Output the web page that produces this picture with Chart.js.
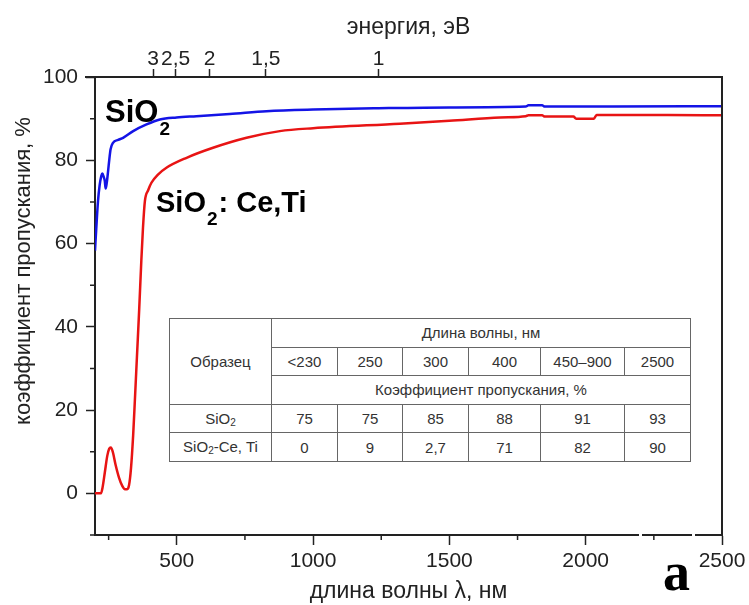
<!DOCTYPE html>
<html lang="ru">
<head>
  <meta charset="UTF-8">
  <title>Пропускание SiO2 и SiO2:Ce,Ti</title>
  <style>
    body { margin: 0; background: #fff; }
    .wrap { position: relative; width: 749px; height: 605px; }
    #tbl { position: absolute; left: 169px; top: 318px; width: 521px; border-collapse: collapse; table-layout: fixed;
           font-family: Arial, "Liberation Sans", sans-serif; font-size: 15px; color: #333; background: #fff; }
    #tbl td { border: 1px solid #666; text-align: center; padding: 0; height: 27.6px; white-space: nowrap; }
    #tbl sub { font-size: 10px; vertical-align: -2px; }
  </style>
</head>
<body>
  <div class="wrap">
    <canvas id="chart" width="749" height="605"></canvas>
    <table id="tbl"></table>
  </div>

  <script src="https://cdn.jsdelivr.net/npm/chart.js"></script>
  <script>
    // SiO2 (blue)
    const blueNm = [200, 205, 211, 217, 223, 227, 232, 236, 239, 243, 248, 253, 257, 266, 285, 303, 340, 389, 438, 499, 572, 694, 829, 1000, 1240, 1500, 1780, 1790, 1840, 1850, 2100, 2500];
    const blueT  = [58.3, 64, 70.2, 74, 76.2, 76.8, 76, 75, 73.2, 74.5, 77.4, 80.5, 82.6, 84.2, 84.9, 85.4, 87, 88.6, 89.8, 90.3, 90.6, 91.1, 91.8, 92.2, 92.5, 92.7, 92.9, 93.2, 93.2, 92.9, 92.9, 93.0];

    // SiO2:Ce,Ti (red)
    const redNm = [200, 222, 228, 236, 245, 252, 258, 265, 275, 288, 300, 310, 318, 325, 332, 340, 346, 354, 362, 370, 376, 383, 395, 407, 430, 462, 536, 633, 756, 878, 1000, 1318, 1500, 1686, 1780, 1790, 1840, 1850, 1955, 1965, 2030, 2040, 2300, 2500];
    const redT  = [0, 0, 1.5, 5, 9, 10.7, 11, 10, 7, 3.8, 1.8, 1.0, 1.0, 2, 6, 14, 22, 33, 44, 56, 63.8, 70.2, 72.8, 74.6, 76.5, 78.2, 80.6, 83, 85.4, 87, 87.7, 88.8, 89.5, 90.3, 90.6, 90.8, 90.8, 90.5, 90.5, 90.0, 90.0, 90.9, 90.9, 90.8];

    // axis ticks
    const xTickValues = [250, 500, 750, 1000, 1250, 1500, 1750, 2000, 2250, 2500];
    const yTickValues = [-10, 0, 10, 20, 30, 40, 50, 60, 70, 80, 90, 100];
    const energyValues = [3, 2.5, 2, 1.5, 1];
    const energyLabels = ['3', '2,5', '2', '1,5', '1'];

    // table
    const tableWaves = ['<230', '250', '300', '400', '450–900', '2500'];
    const tableSiO2 = ['75', '75', '85', '88', '91', '93'];
    const tableSiO2CeTi = ['0', '9', '2,7', '71', '82', '90'];

    const colWidths = [102, 66, 65, 66, 72, 84, 66];
    let html = '<colgroup>' + colWidths.map(w => `<col style="width:${w}px">`).join('') + '</colgroup>';
    html += '<tr><td rowspan="3">Образец</td><td colspan="6">Длина волны, нм</td></tr>';
    html += '<tr>' + tableWaves.map(v => `<td>${v.replace('<', '&lt;')}</td>`).join('') + '</tr>';
    html += '<tr><td colspan="6">Коэффициент пропускания, %</td></tr>';
    html += '<tr><td>SiO<sub>2</sub></td>' + tableSiO2.map(v => `<td>${v}</td>`).join('') + '</tr>';
    html += '<tr><td>SiO<sub>2</sub>-Ce, Ti</td>' + tableSiO2CeTi.map(v => `<td>${v}</td>`).join('') + '</tr>';
    document.getElementById('tbl').innerHTML = html;

    const FONT = 'Arial, "Liberation Sans", sans-serif';
    const INK = '#222';

    function noPad(s) { s.paddingLeft = 0; s.paddingRight = 0; s.paddingTop = 0; s.paddingBottom = 0; }

    function drawSub(ctx, x, y, main, sub, rest, size, subSize, drop) {
      ctx.font = `bold ${size}px ${FONT}`;
      ctx.fillText(main, x, y);
      let w = ctx.measureText(main).width;
      ctx.font = `bold ${subSize}px ${FONT}`;
      ctx.fillText(sub, x + w + 1, y + drop);
      w += ctx.measureText(sub).width + 2;
      if (rest) {
        ctx.font = `bold ${size}px ${FONT}`;
        ctx.fillText(rest, x + w, y);
      }
    }

    const extras = {
      id: 'extras',
      afterDraw(chart) {
        const { ctx, chartArea: a, scales: { x, y } } = chart;
        ctx.save();
        ctx.strokeStyle = INK;
        ctx.lineWidth = 1.5;
        ctx.beginPath();
        x.ticks.forEach(t => {
          if (t.value % 500 !== 0) {
            const px = x.getPixelForValue(t.value);
            ctx.moveTo(px, a.bottom); ctx.lineTo(px, a.bottom + 5);
          }
        });
        y.ticks.forEach(t => {
          if (t.value % 20 !== 0) {
            const py = y.getPixelForValue(t.value);
            ctx.moveTo(a.left, py); ctx.lineTo(a.left - 5, py);
          }
        });
        ctx.stroke();

        // right frame and top line stub
        ctx.lineWidth = 2;
        ctx.beginPath();
        ctx.moveTo(a.right, a.top); ctx.lineTo(a.right, a.bottom);
        ctx.moveTo(a.left - 10, a.top); ctx.lineTo(a.left, a.top);
        ctx.stroke();

        // gaps in the bottom axis line
        ctx.fillStyle = '#fff';
        ctx.fillRect(639, a.bottom - 2, 3, 4);
        ctx.fillRect(692, a.bottom - 2, 3, 4);

        // y title
        ctx.fillStyle = INK;
        ctx.font = `22px ${FONT}`;
        ctx.textAlign = 'center';
        ctx.textBaseline = 'middle';
        ctx.translate(24, 271);
        ctx.rotate(-Math.PI / 2);
        ctx.fillText('коэффициент пропускания, %', 0, 0);
        ctx.setTransform(1, 0, 0, 1, 0, 0);

        // curve labels
        ctx.textAlign = 'left';
        ctx.textBaseline = 'alphabetic';
        ctx.fillStyle = '#000';
        drawSub(ctx, 105, 122, 'SiO', '2', '', 31, 19, 13);
        drawSub(ctx, 156, 212, 'SiO', '2', ': Ce,Ti', 29, 19, 13);

        // panel letter
        ctx.font = 'bold 54px "Liberation Serif", "Times New Roman", serif';
        ctx.fillText('a', 663, 590);
        ctx.restore();
      }
    };

    new Chart(document.getElementById('chart'), {
      type: 'line',
      data: {
        datasets: [
          {
            label: 'SiO2',
            data: blueNm.map((v, i) => ({ x: v, y: blueT[i] })),
            borderColor: '#1414e6',
            borderWidth: 2.5
          },
          {
            label: 'SiO2: Ce,Ti',
            data: redNm.map((v, i) => ({ x: v, y: redT[i] })),
            borderColor: '#e81414',
            borderWidth: 2.5
          }
        ]
      },
      options: {
        responsive: false,
        animation: false,
        devicePixelRatio: 1,
        layout: { padding: { left: 0, right: 27, top: 0, bottom: 0 } },
        elements: { point: { radius: 0 }, line: { cubicInterpolationMode: 'monotone', fill: false } },
        plugins: { legend: { display: false }, tooltip: { enabled: false } },
        scales: {
          x: {
            type: 'linear', position: 'bottom', min: 200, max: 2500,
            afterBuildTicks: s => { s.ticks = xTickValues.map(v => ({ value: v })); },
            afterFit: s => { s.height = 70; noPad(s); },
            grid: { drawOnChartArea: false, tickLength: 10, tickWidth: 1.5,
                    tickColor: c => (c.tick && c.tick.value % 500 === 0) ? INK : 'transparent' },
            border: { color: INK, width: 2 },
            ticks: { autoSkip: false, maxRotation: 0, padding: 4, color: INK, font: { family: FONT, size: 21 },
                     callback: v => v % 500 === 0 ? String(v) : '' },
            title: { display: true, text: 'длина волны λ, нм', color: INK, font: { family: FONT, size: 23 },
                     padding: { top: 0, bottom: 0 } }
          },
          x2: {
            type: 'linear', position: 'top', min: 200, max: 2500,
            afterBuildTicks: s => { s.ticks = energyValues.map(e => ({ value: 1240 / e })); },
            afterFit: s => { s.height = 77; noPad(s); },
            grid: { drawOnChartArea: false, tickLength: 8, tickWidth: 1.5, tickColor: INK },
            border: { color: INK, width: 2 },
            ticks: { autoSkip: false, maxRotation: 0, padding: -3, color: INK, font: { family: FONT, size: 21 },
                     callback: (v, i) => energyLabels[i] },
            title: { display: true, text: 'энергия, эВ', color: INK, font: { family: FONT, size: 23 },
                     padding: { top: 14, bottom: 0 } }
          },
          y: {
            min: -10, max: 100,
            afterBuildTicks: s => { s.ticks = yTickValues.map(v => ({ value: v })); },
            afterFit: s => { s.width = 95; noPad(s); },
            grid: { drawOnChartArea: false, tickLength: 9, tickWidth: 1.5,
                    tickColor: c => (c.tick && c.tick.value % 20 === 0) ? INK : 'transparent' },
            border: { color: INK, width: 2 },
            ticks: { autoSkip: false, padding: 8, color: INK, font: { family: FONT, size: 21 },
                     callback: v => v % 20 === 0 ? String(v) : '' }
          }
        }
      },
      plugins: [extras]
    });
  </script>
</body>
</html>
